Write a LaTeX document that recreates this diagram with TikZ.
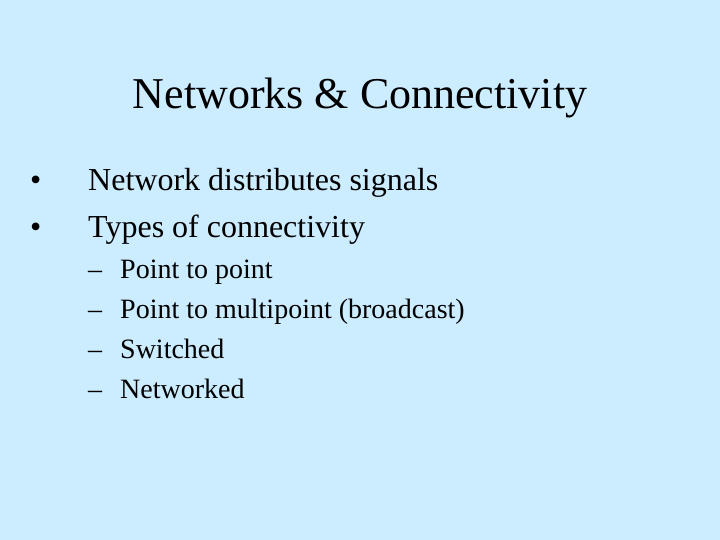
\documentclass[tikz,border=0pt]{standalone}
\usepackage{fontspec}
\setmainfont{Liberation Serif}
\definecolor{bg}{HTML}{CCECFF}
\begin{document}
\begin{tikzpicture}[x=1pt,y=-1pt,
  t/.style={anchor=base west,inner sep=0pt,font=\fontsize{32}{34}\selectfont},
  s/.style={anchor=base west,inner sep=0pt,font=\fontsize{28}{30}\selectfont}]
\fill[bg] (0,0) rectangle (720,540);
\useasboundingbox (0,0) rectangle (720,540);
\node[anchor=base,inner sep=0pt,font=\fontsize{44}{46}\selectfont] (title) at (360,109) {Networks \& Connectivity};
\node[t] (b1) at (30,191) {•};
\node[t] (l1) at (88,191) {Network distributes signals};
\node[t] (b2) at (30,237) {•};
\node[t] (l2) at (88,237) {Types of connectivity};
\node[s] (d1) at (88,278) {–}; \node[s] (s1) at (120,278) {Point to point};
\node[s] (d2) at (88,318) {–}; \node[s] (s2) at (120,318) {Point to multipoint (broadcast)};
\node[s] (d3) at (88,358) {–}; \node[s] (s3) at (120,358) {Switched};
\node[s] (d4) at (88,398) {–}; \node[s] (s4) at (120,398) {Networked};
\end{tikzpicture}
\end{document}
